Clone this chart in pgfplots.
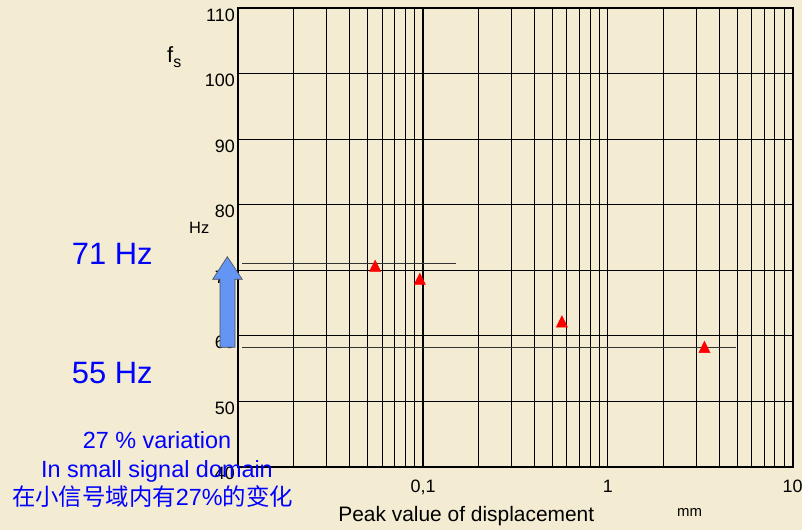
\documentclass[border=0pt]{standalone}
\usepackage{pgfplots}
\pgfplotsset{compat=1.18}
\usepackage{fontspec}
\setmainfont{Liberation Sans}
\newfontfamily\cjk{Noto Sans CJK SC}
\definecolor{bg}{RGB}{243,236,210}
\definecolor{arrowblue}{RGB}{100,149,245}
\newcommand{\tickfont}{\fontsize{18}{20}\selectfont}
\begin{document}
\begin{tikzpicture}[x=1bp,y=1bp]
\useasboundingbox (0,0) rectangle (802,530);
\fill[bg] (0,0) rectangle (802,530);
\begin{axis}[
  at={(238.3bp,63.3bp)}, anchor=south west,
  scale only axis, width=554.4bp, height=458.4bp,
  xmode=log, xmin=0.01, xmax=10, ymin=40, ymax=110,
  xtick={0.01,0.1,1,10}, xticklabels={,{0,1},1,10},
  minor xtick={0.02,0.03,0.04,0.05,0.06,0.07,0.08,0.09,0.2,0.3,0.4,0.5,0.6,0.7,0.8,0.9,2,3,4,5,6,7,8,9},
  ytick={40,50,...,110},
  grid=both,
  major grid style={black, line width=0.9bp},
  minor grid style={black, line width=0.9bp},
  axis line style={black, line width=1.8bp},
  tick style={draw=none},
  axis background/.style={fill=bg},
  /pgf/number format/assume math mode=true,
  xticklabel style={font=\tickfont, anchor=base, yshift=-26bp},
  yticklabel style={font=\tickfont, anchor=base east, yshift=-13bp},
  clip=false,
]
\addplot[black, line width=1.8bp] coordinates {(0.1,40) (0.1,110)};
\addplot[black!80, line width=1bp] coordinates {(0.0105,71) (0.1516,71)};
\addplot[black!80, line width=1bp] coordinates {(0.0105,58.23) (4.94,58.23)};
\addplot[only marks, mark=triangle*, mark size=7.6bp, red, mark options={fill=red, draw=red, xscale=0.85}] table {
x y
0.055 70.4
0.096 68.4
0.564 61.9
3.33 58.0
};
\end{axis}
\filldraw[fill=arrowblue, draw=black!70, line width=0.6bp] (227.3,273.3) -- (242.3,250.7) -- (235,250.7) -- (235,182.7) -- (220,182.7) -- (220,250.7) -- (212.7,250.7) -- cycle;
\node[anchor=base west, inner sep=0, font=\fontsize{22}{26}\selectfont] at (167,467) {f{\fontsize{16}{18}\selectfont\raisebox{-5bp}{s}}};
\node[anchor=base west, inner sep=0, font=\fontsize{16.5}{20}\selectfont] at (189,296) {Hz};
\node[anchor=base west, inner sep=0, text=blue, font=\fontsize{31}{36}\selectfont] at (71.7,265) {71 Hz};
\node[anchor=base west, inner sep=0, text=blue, font=\fontsize{31}{36}\selectfont] at (71.7,146.7) {55 Hz};
\node[anchor=base, inner sep=0, text=blue, font=\fontsize{23.5}{28}\selectfont] at (157,81.7) {27 \% variation};
\node[anchor=base, inner sep=0, text=blue, font=\fontsize{23.5}{28}\selectfont] at (157,52.3) {In small signal domain};
\node[anchor=base, inner sep=0, text=blue, font=\fontsize{23.5}{28}\selectfont] at (152.5,24) {{\cjk 在小信号域内有}27\%{\cjk 的变化}};
\node[anchor=base, inner sep=0, font=\fontsize{21}{24}\selectfont] at (466.3,8.3) {Peak value of displacement};
\node[anchor=base, inner sep=0, font=\fontsize{15}{18}\selectfont] at (689.5,13.3) {mm};
\end{tikzpicture}
\end{document}
